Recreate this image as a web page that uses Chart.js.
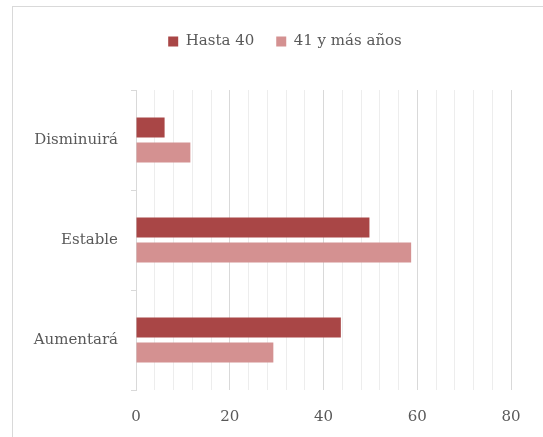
<!DOCTYPE html>
<html>
<head>
<meta charset="utf-8">
<script src="https://cdn.jsdelivr.net/npm/chart.js@4"></script>
<style>
html,body{margin:0;padding:0;background:#fff;}
canvas{display:block;}
</style>
</head>
<body>
<canvas id="c" width="543" height="437"></canvas>
<script>
const categories = ['Disminuirá', 'Estable', 'Aumentará'];
const seriesNames = ['Hasta 40', '41 y más años'];
const hasta40 = [6.1, 49.8, 43.7];
const mayores41 = [11.6, 58.7, 29.3];
const xTickLabels = [0, 20, 40, 60, 80];

const FONT = "'DejaVu Serif', serif";
const TXT = '#595959';

const borderPlugin = {
  id: 'outerBorder',
  beforeDraw(chart) {
    const ctx = chart.ctx;
    ctx.save();
    ctx.fillStyle = '#ffffff';
    ctx.fillRect(0, 0, chart.width, chart.height);
    ctx.strokeStyle = '#D9D9D9';
    ctx.lineWidth = 1;
    ctx.strokeRect(12.5, 6.5, 700, 700);
    ctx.restore();
  }
};
const legendPlugin = {
  id: 'legendAdjust',
  beforeInit(chart) {
    const orig = chart.legend.fit;
    chart.legend.fit = function () {
      orig.call(this);
      this.height = 78;
    };
  },
  afterLayout(chart) {
    const lg = chart.legend;
    const shift = 285 - (lg.left + lg.right) / 2;
    lg.left += shift;
    lg.right += shift;
    if (lg.legendHitBoxes) lg.legendHitBoxes.forEach(b => { b.left += shift; });
  }
};

new Chart(document.getElementById('c'), {
  type: 'bar',
  data: {
    labels: categories,
    datasets: [
      { label: seriesNames[0], data: hasta40, backgroundColor: '#A94646', categoryPercentage: 0.5, barPercentage: 0.8 },
      { label: seriesNames[1], data: mayores41, backgroundColor: '#D49191', categoryPercentage: 0.5, barPercentage: 0.8 }
    ]
  },
  options: {
    indexAxis: 'y',
    responsive: false,
    animation: false,
    devicePixelRatio: 1,
    layout: { padding: { left: 12, right: 32, top: 12, bottom: 0 } },
    plugins: {
      tooltip: { enabled: false },
      legend: {
        position: 'top',
        align: 'center',
        labels: {
          boxWidth: 10,
          boxHeight: 10,
          padding: 22,
          color: TXT,
          font: { family: FONT, size: 15 }
        }
      }
    },
    scales: {
      x: {
        min: 0,
        max: 80,
        afterFit(scale) { scale.height = 47; },
        ticks: {
          stepSize: 4,
          autoSkip: false,
          maxRotation: 0,
          color: TXT,
          font: { family: FONT, size: 15 },
          padding: 18,
          callback(v) { return xTickLabels.includes(v) ? String(v) : ''; }
        },
        grid: {
          drawTicks: false,
          color(ctx) { return (ctx.tick && ctx.tick.value % 20 === 0) ? '#D9D9D9' : '#EDEDED'; },
          lineWidth: 1
        },
        border: { display: false }
      },
      y: {
        afterFit(scale) { scale.width = 124; },
        ticks: {
          color: TXT,
          font: { family: FONT, size: 15 },
          padding: 13
        },
        grid: {
          offset: true,
          drawOnChartArea: false,
          drawTicks: true,
          tickLength: 5,
          color: '#D9D9D9'
        },
        border: { display: true, color: '#D9D9D9' }
      }
    }
  },
  plugins: [borderPlugin, legendPlugin]
});
</script>
</body>
</html>
